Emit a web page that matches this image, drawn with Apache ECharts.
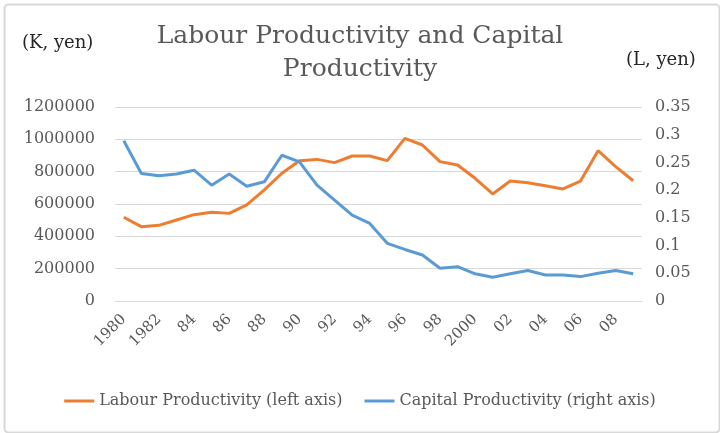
<!DOCTYPE html>
<html>
<head>
<meta charset="utf-8">
<script src="https://cdn.jsdelivr.net/npm/echarts@6/dist/echarts.min.js"></script>
<style>
  html, body { margin: 0; padding: 0; background: #fff; }
  #main { width: 720px; height: 433px; }
</style>
</head>
<body>
<div id="main"></div>
<script>
// years 1980 - 2009
var years = ['1980','81','1982','83','84','85','86','87','88','89',
  '90','91','92','93','94','95','96','97','98','99',
  '2000','01','02','03','04','05','06','07','08','09']

// K yen, left axis
var labour = [518000, 460000, 468000, 501000, 534000, 549000, 542000, 594000, 687000, 790000,
  868000, 876000, 856000, 897000, 897000, 868000, 1006000, 965000, 862000, 841000,
  759000, 662000, 742000, 732000, 713000, 693000, 742000, 930000, 831000, 744000]

// L yen, right axis
var capital = [0.289, 0.230, 0.226, 0.229, 0.236, 0.209, 0.229, 0.207, 0.215, 0.263,
  0.251, 0.209, 0.182, 0.155, 0.140, 0.104, 0.093, 0.083, 0.059, 0.062,
  0.049, 0.043, 0.049, 0.055, 0.047, 0.047, 0.044, 0.050, 0.055, 0.049]

var font = '"DejaVu Serif", "Liberation Serif", serif'
var grey = '#595959'

var chart = echarts.init(document.getElementById('main'))

chart.setOption({
  backgroundColor: '#fff',
  animation: false,
  textStyle: { fontFamily: font },
  title: {
    text: 'Labour Productivity and Capital\nProductivity',
    left: 'center',
    top: 15,
    textStyle: { fontFamily: font, fontSize: 25, fontWeight: 'normal', color: grey, lineHeight: 33 }
  },
  graphic: [
    { type: 'rect', left: 2, top: 2, shape: { width: 715, height: 428, r: 4 },
      style: { fill: 'none', stroke: '#d9d9d9', lineWidth: 2 }, silent: true },
    { type: 'text', left: 22, top: 34,
      style: { text: '(K, yen)', font: '18px ' + font, fill: '#262626' } },
    { type: 'text', left: 626, top: 51,
      style: { text: '(L, yen)', font: '18px ' + font, fill: '#262626' } }
  ],
  legend: {
    bottom: 19,
    left: 'center',
    itemGap: 22,
    itemWidth: 30,
    itemHeight: 3,
    icon: 'rect',
    textStyle: { fontFamily: font, fontSize: 16, color: grey },
    data: ['Labour Productivity (left axis)', 'Capital Productivity (right axis)']
  },
  grid: { left: 115, right: 78, top: 107, bottom: 132 },
  xAxis: {
    type: 'category',
    data: years,
    boundaryGap: true,
    axisLine: { lineStyle: { color: '#d9d9d9' } },
    axisTick: { show: false },
    axisLabel: { interval: 1, rotate: 45, fontFamily: font, fontSize: 15, color: grey, margin: 16 }
  },
  yAxis: [
    {
      type: 'value',
      min: 0, max: 1200000, interval: 200000,
      axisLine: { show: false },
      axisTick: { show: false },
      splitLine: { lineStyle: { color: '#d9d9d9', width: 1 } },
      axisLabel: { fontFamily: font, fontSize: 16, color: grey, margin: 20, formatter: function (v) { return String(v) } }
    },
    {
      type: 'value',
      min: 0, max: 0.35, interval: 0.05,
      axisLine: { show: false },
      axisTick: { show: false },
      splitLine: { show: false },
      axisLabel: { fontFamily: font, fontSize: 16, color: grey, margin: 13 }
    }
  ],
  series: [
    {
      name: 'Labour Productivity (left axis)',
      type: 'line',
      yAxisIndex: 0,
      data: labour,
      showSymbol: false,
      color: '#ED7D31',
      lineStyle: { width: 3, color: '#ED7D31' }
    },
    {
      name: 'Capital Productivity (right axis)',
      type: 'line',
      yAxisIndex: 1,
      data: capital,
      showSymbol: false,
      color: '#5B9BD5',
      lineStyle: { width: 3, color: '#5B9BD5' }
    }
  ]
})
</script>
</body>
</html>
